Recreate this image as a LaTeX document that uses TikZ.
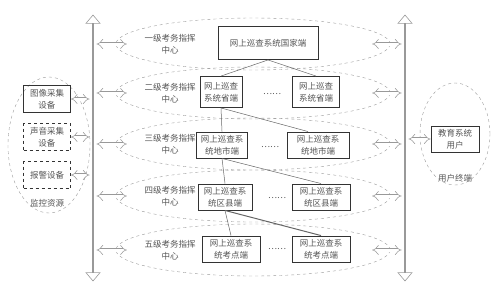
\documentclass[tikz,border=0pt]{standalone}
\usepackage{fontspec}
\setmainfont{Noto Sans CJK SC}
\usetikzlibrary{arrows.meta,shapes.geometric,shapes.arrows}
\definecolor{txtgray}{HTML}{555555}
\definecolor{linegray}{HTML}{999999}
\tikzset{
  sysbox/.style={draw=black!80, line width=0.9pt, align=center, text=txtgray,
    inner xsep=4pt, inner ysep=2pt, minimum width=54pt, minimum height=26pt,
    font=\fontsize{8.5}{12}\selectfont},
  lvzone/.style={ellipse, draw=linegray, dashed, minimum width=274pt, minimum height=52pt},
  busarrow/.style={double arrow, draw=linegray, line width=0.6pt, inner sep=0pt,
    minimum width=14pt, double arrow head extend=4pt, double arrow tip angle=80, rotate=90},
  link/.style={draw=linegray, double=white, double distance=3pt, line width=0.55pt,
    {Implies}-{Implies}},
  tree/.style={draw=black!60, line width=0.5pt},
  lvtext/.style={align=center, text=txtgray, font=\fontsize{8.5}{12}\selectfont},
}
\begin{document}
\begin{tikzpicture}[x=1pt,y=-1pt]
  \useasboundingbox (0,0) rectangle (500,292);
  \node[busarrow, minimum height=266pt] (lbus) at (93,148) {};
  \node[busarrow, minimum height=266pt] (rbus) at (405,148) {};

  \foreach \y/\n/\lab in {44/1/一级,93/2/二级,144/3/三级,196/4/四级,250/5/五级} {
    \node[lvzone] (lev\n) at (253,\y) {};
    \node[lvtext] (lab\n) at (170,\y) {\lab 考务指挥\\中心};
    \draw[link] ([xshift=3.5pt]lev\n.west -| lbus.center) -- ([xshift=11pt]lev\n.west);
    \draw[link] ([xshift=-3.5pt]lev\n.east -| rbus.center) -- ([xshift=-18pt]lev\n.east);
  }

  \node[sysbox, minimum width=100pt, minimum height=33pt] (nat) at (268,43) {网上巡查系统国家端};
  \node[sysbox, minimum width=42pt, minimum height=31pt] (prv1) at (221,92) {网上巡查\\系统省端};
  \node[sysbox, minimum width=47pt, minimum height=31pt] (prv2) at (316,92) {网上巡查\\系统省端};
  \node[sysbox, minimum width=50pt] (cty1) at (222,145) {网上巡查系\\统地市端};
  \node[sysbox, minimum width=62pt] (cty2) at (318,145) {网上巡查系\\统地市端};
  \node[sysbox] (cnt1) at (225,197) {网上巡查系\\统区县端};
  \node[sysbox, minimum width=58pt] (cnt2) at (321,197) {网上巡查系\\统区县端};
  \node[sysbox, minimum width=58pt] (exm1) at (231,249) {网上巡查系\\统考点端};
  \node[sysbox, minimum width=58pt] (exm2) at (321,249) {网上巡查系\\统考点端};
  \node[lvtext] (dot2) at (272,94) {……};
  \node[lvtext] (dot3) at (270,147) {……};
  \node[lvtext] (dot4) at (277,198) {……};
  \node[lvtext] (dot5) at (277,249) {……};

  \draw[tree] (nat.south) -- (prv1.north);
  \draw[tree] (nat.south) -- (prv2.north);
  \draw[tree] (prv1.south) -- (cty1.north);
  \draw[tree] (prv1.south) -- ([xshift=-10pt]cty2.north);
  \draw[tree] (cty1.south) -- (cnt1.north);
  \draw[tree] (cty1.south) -- (cnt2.north);
  \draw[tree] (cnt1.south) -- (exm1.north);
  \draw[tree, line width=1pt] (cnt1.south) -- (exm2.north);

  \node[ellipse, draw=linegray, dashed, minimum width=82pt, minimum height=136pt] (mon) at (49,145) {};
  \node[sysbox, minimum width=47pt, minimum height=27pt] (img) at (47,99) {图像采集\\设备};
  \node[sysbox, dashed, minimum width=47pt, minimum height=27pt] (snd) at (47,137) {声音采集\\设备};
  \node[sysbox, dashed, minimum width=47pt, minimum height=27pt] (alm) at (47,175) {报警设备};
  \node[lvtext] (monlab) at (47,203) {监控资源};
  \draw[link] (img.east) -- ([xshift=-3.5pt]img.east -| lbus.center);
  \draw[link] (snd.east) -- ([xshift=-3.5pt]snd.east -| lbus.center);
  \draw[link] (alm.east) -- ([xshift=-3.5pt]alm.east -| lbus.center);

  \node[ellipse, draw=linegray, dashed, minimum width=70pt, minimum height=102pt] (usr) at (455,134) {};
  \node[sysbox, minimum width=48pt] (edu) at (455,139) {教育系统\\用户};
  \node[lvtext] (usrlab) at (455,178) {用户终端};
  \draw[link] ([xshift=3.5pt]edu.west -| rbus.center) -- (edu.west);
\end{tikzpicture}
\end{document}
